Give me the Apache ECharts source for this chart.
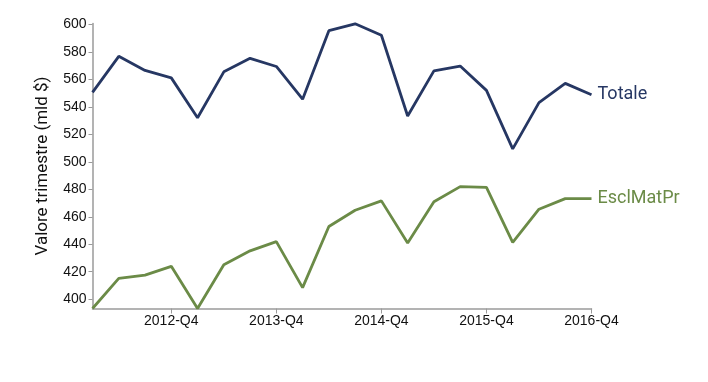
<!DOCTYPE html>
<html><head><meta charset="utf-8">
<script src="https://cdn.jsdelivr.net/npm/echarts@6/dist/echarts.min.js"></script>
<style>html,body{margin:0;padding:0;background:#fff}#c{width:708px;height:382px}</style>
</head><body><div id="c"></div>
<script>
const categories = ['2012-Q1','2012-Q2','2012-Q3','2012-Q4','2013-Q1','2013-Q2','2013-Q3','2013-Q4','2014-Q1','2014-Q2','2014-Q3','2014-Q4','2015-Q1','2015-Q2','2015-Q3','2015-Q4','2016-Q1','2016-Q2','2016-Q3','2016-Q4'];
const totale = [550.6,576.9,566.6,561.2,532.1,565.6,575.4,569.5,545.7,595.6,600.6,592.2,533.4,566.3,569.8,552.1,509.5,543.2,557.2,548.9];
const esclMatPr = [393.2,415.1,417.5,423.9,393.2,425.1,435.2,441.9,408.4,452.9,464.8,471.6,440.9,470.9,482.0,481.5,441.4,465.5,473.2,473.2];
const yTicks = [400,420,440,460,480,500,520,540,560,580,600];
const xTickLabels = ['2012-Q4','2013-Q4','2014-Q4','2015-Q4','2016-Q4'];

const chart = echarts.init(document.getElementById('c'));
const axisColor = '#9a9a9a';
chart.setOption({
  animation: false,
  grid: {left: 92.5, right: 116.5, top: 23.5, bottom: 73.5},
  xAxis: {
    type: 'category', data: categories, boundaryGap: false,
    axisLine: {lineStyle: {color: axisColor, width: 1.5}},
    axisTick: {interval: (i, v) => xTickLabels.includes(v), length: 5, lineStyle: {color: axisColor}},
    axisLabel: {interval: (i, v) => xTickLabels.includes(v), color: '#111', fontSize: 14, fontFamily: 'Liberation Sans', margin: 6},
    splitLine: {show: false}
  },
  yAxis: {
    type: 'value', min: 393.2, max: 600.8,
    name: 'Valore trimestre (mld $)', nameLocation: 'middle', nameGap: 41,
    nameTextStyle: {fontSize: 17, fontFamily: 'Roboto', color: '#111'},
    axisLine: {show: true, lineStyle: {color: axisColor, width: 1.5}},
    axisTick: {show: true, length: 4, customValues: yTicks, lineStyle: {color: axisColor}},
    axisLabel: {customValues: yTicks, color: '#111', fontSize: 14, fontFamily: 'Liberation Sans', margin: 6},
    splitLine: {show: false}
  },
  series: [
    {name: 'Totale', type: 'line', data: totale, symbol: 'none', lineStyle: {color: '#263763', width: 2.8}, itemStyle: {color: '#263763'},
     endLabel: {show: true, formatter: '{a}', color: '#263763', fontSize: 18, fontFamily: 'Roboto', distance: 6}},
    {name: 'EsclMatPr', type: 'line', data: esclMatPr, symbol: 'none', lineStyle: {color: '#6b8b47', width: 2.8}, itemStyle: {color: '#6b8b47'},
     endLabel: {show: true, formatter: '{a}', color: '#6b8b47', fontSize: 18, fontFamily: 'Roboto', distance: 6}}
  ]
});
</script></body></html>
